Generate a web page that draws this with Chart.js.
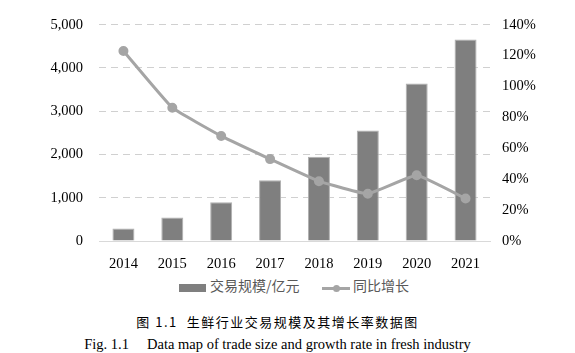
<!DOCTYPE html>
<html>
<head>
<meta charset="utf-8">
<script src="https://cdn.jsdelivr.net/npm/chart.js@4/dist/chart.umd.min.js"></script>
<style>
    body { margin: 0; background: #fff; }
    #wrap { position: relative; width: 575px; height: 353px; }
    #chart-box { position: absolute; left: 0; top: 0; width: 575px; height: 268px; }
    .legend { position: absolute; top: 276px; left: 0; width: 575px; font-family: "Noto Sans CJK SC", sans-serif; font-size: 14px; color: #595959; }
    .legend span { position: absolute; white-space: nowrap; }
    .caption { position: absolute; left: 0; width: 575px; text-align: center; color: #000; white-space: nowrap; }
</style>
</head>
<body>
<div id="wrap">
    <div id="chart-box"><canvas id="trade-chart"></canvas></div>
    <div class="legend">
        <span style="left:179px; top:8px; width:27px; height:8px; background:#7f7f7f;"></span>
        <span style="left:210px; top:-1px;">交易规模/亿元</span>
        <span style="left:322px; top:11px; width:28px; height:3px; background:#a5a5a5;"></span>
        <span style="left:333px; top:9px; width:7px; height:7px; border-radius:50%; background:#a5a5a5;"></span>
        <span style="left:353px; top:-1px;">同比增长</span>
    </div>
    <div class="caption" style="top:312px; font-family: 'Noto Sans CJK SC', sans-serif; font-size: 13px; letter-spacing: 1.5px; left:-10px;">图 1.1&nbsp; 生鲜行业交易规模及其增长率数据图</div>
    <div class="caption" style="top:336px; font-family: 'Liberation Serif', serif; font-size: 14.5px; left:-10px;">Fig. 1.1&nbsp;&nbsp;&nbsp;&nbsp; Data map of trade size and growth rate in fresh industry</div>
</div>
<script>
// Chart data
const years = ['2014', '2015', '2016', '2017', '2018', '2019', '2020', '2021'];
const tradeSize = [290, 542, 897, 1402, 1950, 2554, 3641, 4658];
const growthRate = [123, 86.3, 68, 53, 38.7, 30.6, 42.5, 27.5];

document.addEventListener('DOMContentLoaded', function() {
    const ctx = document.getElementById('trade-chart');
    const tickFont = { family: 'Liberation Serif', size: 14.5 };

    new Chart(ctx, {
        data: {
            labels: years,
            datasets: [{
                type: 'line',
                label: '同比增长',
                data: growthRate,
                yAxisID: 'yRight',
                borderColor: '#a5a5a5',
                backgroundColor: '#a5a5a5',
                borderWidth: 3,
                pointRadius: 3.5,
                pointBackgroundColor: '#a5a5a5',
                tension: 0.1,
                order: 0
            }, {
                type: 'bar',
                label: '交易规模/亿元',
                data: tradeSize,
                yAxisID: 'y',
                backgroundColor: '#7f7f7f',
                borderColor: '#b0b0b0',
                borderWidth: 1,
                categoryPercentage: 1,
                barPercentage: 0.45,
                order: 1
            }]
        },
        options: {
            responsive: true,
            maintainAspectRatio: false,
            animation: false,
            layout: { padding: { top: 17, left: 0, right: 0, bottom: 0 } },
            plugins: {
                legend: { display: false },
                tooltip: { enabled: false }
            },
            scales: {
                x: {
                    grid: { display: false },
                    border: { color: '#d9d9d9', width: 1 },
                    ticks: { color: '#000', font: tickFont, padding: 6 },
                    afterFit: function(scale) { scale.height = 27; }
                },
                y: {
                    position: 'left',
                    min: 0,
                    max: 5000,
                    ticks: {
                        stepSize: 1000,
                        color: '#000',
                        font: tickFont,
                        padding: 16,
                        callback: v => v.toLocaleString('en-US')
                    },
                    grid: { color: '#d0d0d0', drawTicks: false, borderDash: [7, 5] },
                    border: { display: false, dash: [7, 5] },
                    afterFit: function(scale) { scale.width = 99; }
                },
                yRight: {
                    position: 'right',
                    min: 0,
                    max: 140,
                    ticks: {
                        stepSize: 20,
                        color: '#000',
                        font: tickFont,
                        padding: 12,
                        callback: v => v + '%'
                    },
                    grid: { display: false, drawTicks: false },
                    border: { display: false },
                    afterFit: function(scale) { scale.width = 85; }
                }
            }
        }
    });
});
</script>
</body>
</html>
